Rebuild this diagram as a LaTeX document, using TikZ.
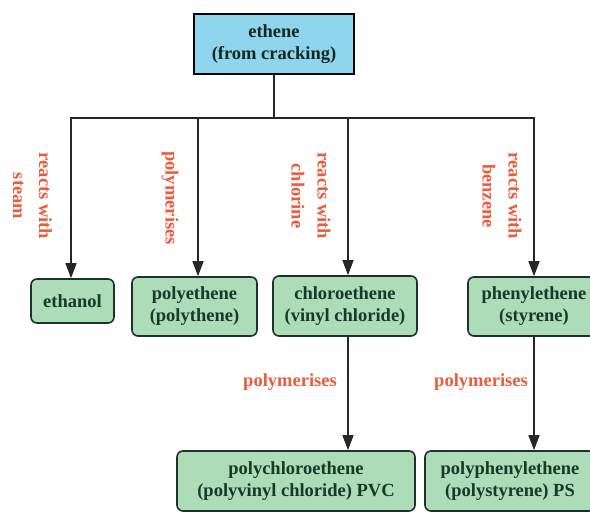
\documentclass[tikz,border=0pt]{standalone}
\usepackage{fontspec}
\setmainfont{Liberation Serif}
\usetikzlibrary{arrows.meta}
\definecolor{boxgreen}{HTML}{ACDCB8}
\definecolor{boxline}{HTML}{1E3226}
\definecolor{boxtext}{HTML}{173A28}
\definecolor{startblue}{HTML}{8FD5EE}
\definecolor{labelred}{HTML}{EE5A3C}
\tikzset{
  txt/.style={font=\fontsize{18.5}{22}\selectfont\bfseries},
  startbox/.style={txt, draw=black, line width=2.2pt, fill=startblue, text=boxtext!70!black,
    align=center, inner sep=0pt},
  prodbox/.style={txt, draw=boxline, line width=1.6pt, fill=boxgreen, text=boxtext,
    rounded corners=6pt, align=center, inner sep=0pt},
  reaction/.style={txt, text=labelred, align=center, inner sep=0pt,
    font=\fontsize{18.5}{26}\selectfont\bfseries},
  link/.style={draw=black!85, line width=1.4pt},
  arr/.style={link, -{Triangle[width=11pt,length=15pt]}},
}
\begin{document}
\begin{tikzpicture}[x=1pt,y=-1pt]
\useasboundingbox (0,0) rectangle (590,512);

% starting material
\node[startbox, minimum width=160pt, minimum height=60pt] (eth) at (274,44) {ethene\\(from cracking)};

% products of ethene
\node[prodbox, minimum width=83pt, minimum height=44pt] (ethanol) at (72.5,301) {ethanol};
\node[prodbox, minimum width=125pt, minimum height=59pt] (pe) at (194.5,306.5) {polyethene\\(polythene)};
\node[prodbox, minimum width=144pt, minimum height=60pt] (chloro) at (345,306) {chloroethene\\(vinyl chloride)};
\node[prodbox, minimum width=132pt, minimum height=59pt] (phenyl) at (534,306.5) {phenylethene\\(styrene)};

% polymers
\node[prodbox, minimum width=238pt, minimum height=60pt] (pvc) at (296,481) {polychloroethene\\(polyvinyl chloride) PVC};
\node[prodbox, minimum width=170pt, minimum height=60pt] (ps) at (510,481) {polyphenylethene\\(polystyrene) PS};

% branching bus
\coordinate (b1) at (71,118);
\coordinate (b2) at (198,118);
\coordinate (b3) at (348,118);
\coordinate (b4) at (534,118);
\draw[link] (eth.south -| 274,0) -- (274,118);
\draw[link] ([xshift=-0.7pt]b1) -- ([xshift=0.7pt]b4);
\draw[arr] (b1) -- (b1 |- ethanol.north);
\draw[arr] (b2) -- (b2 |- pe.north);
\draw[arr] (b3) -- (b3 |- chloro.north);
\draw[arr] (b4) -- (b4 |- phenyl.north);

% polymerisation steps
\draw[arr] (b3 |- chloro.south) -- (b3 |- pvc.north);
\draw[arr] (b4 |- phenyl.south) -- (b4 |- ps.north);

% reaction labels
\node[reaction, rotate=-90] (lsteam) at (32.5,196) {reacts with\\steam};
\node[reaction, rotate=-90] (lpoly) at (170,198) {polymerises};
\node[reaction, rotate=-90] (lcl) at (311,196) {reacts with\\chlorine};
\node[reaction, rotate=-90] (lbz) at (502,196) {reacts with\\benzene};
\node[reaction] (lpvc) at (290,382) {polymerises};
\node[reaction] (lps) at (481,382) {polymerises};
\end{tikzpicture}
\end{document}
